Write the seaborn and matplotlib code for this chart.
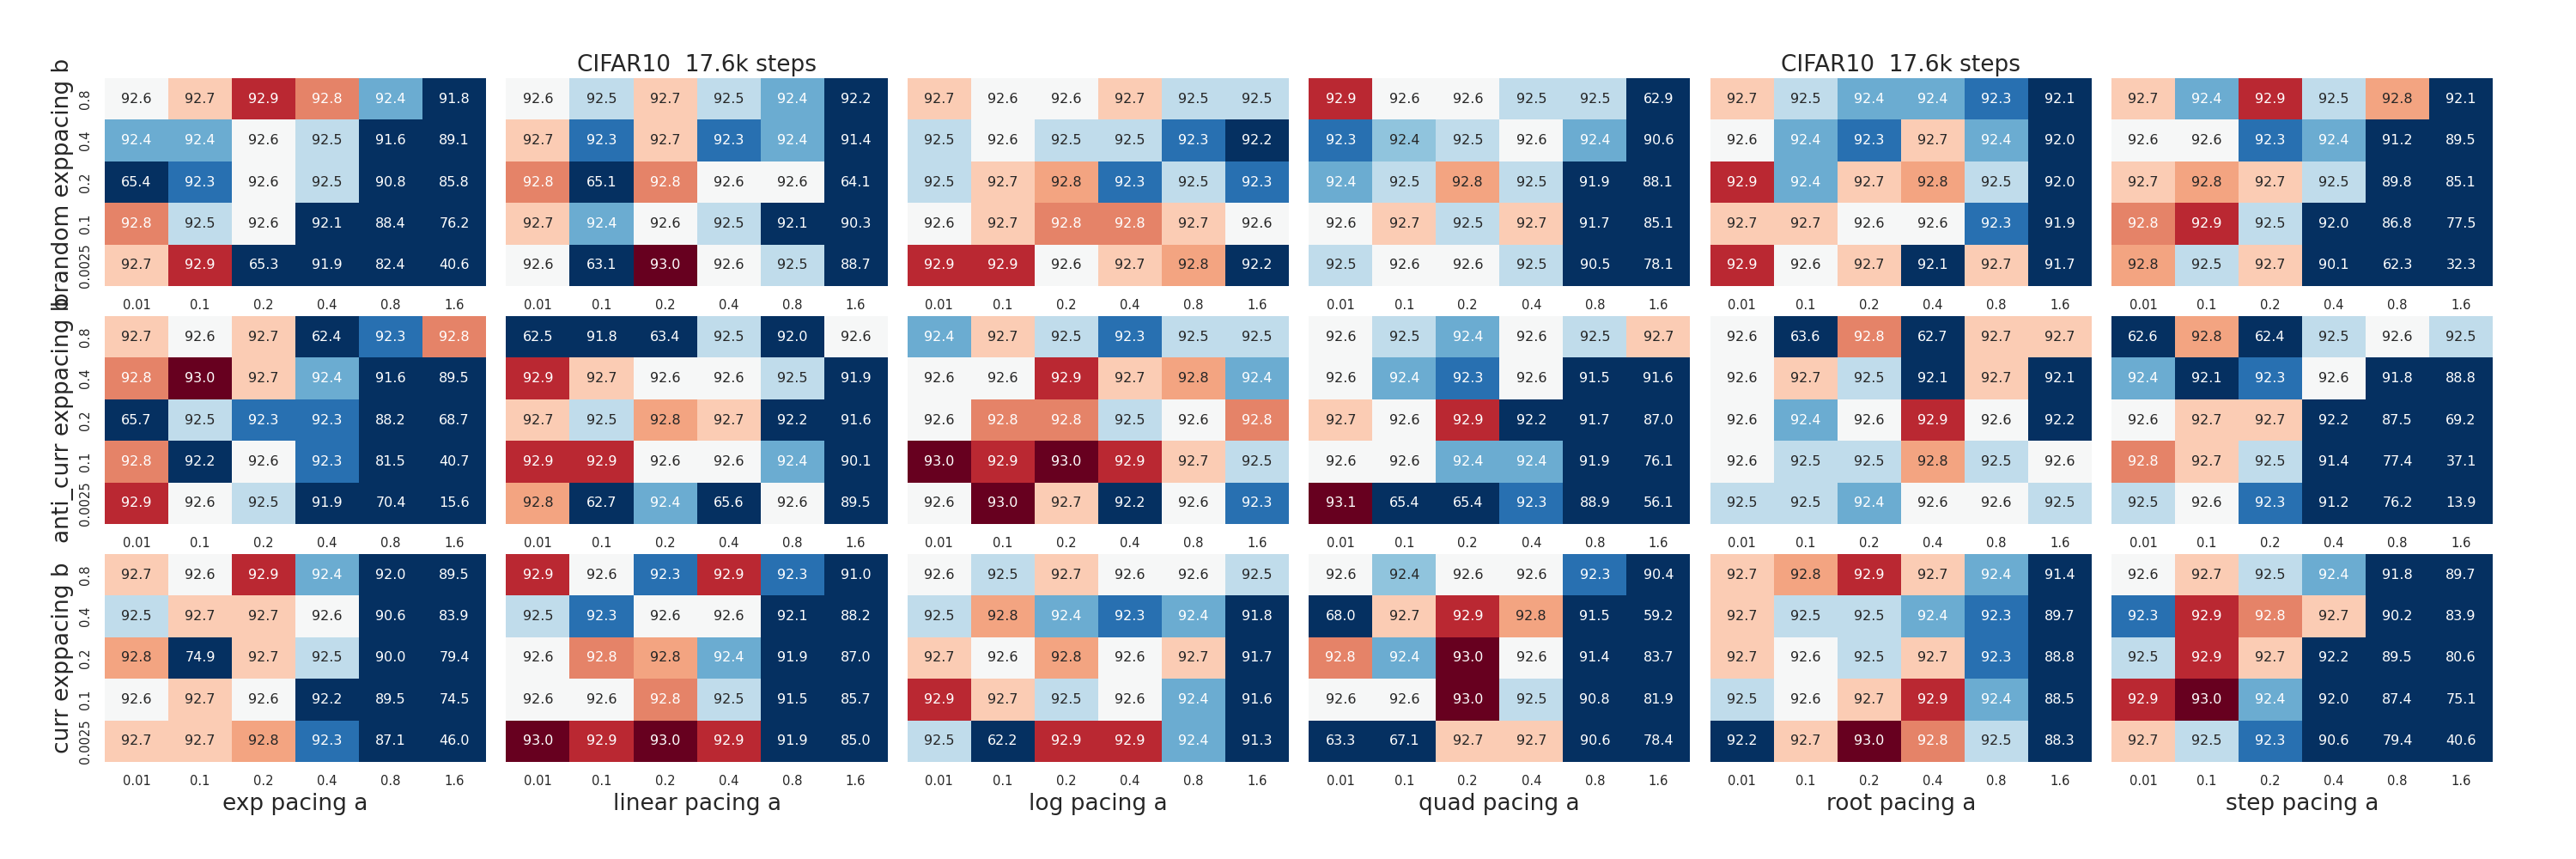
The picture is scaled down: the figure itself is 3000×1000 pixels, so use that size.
import pandas as pd
import seaborn as sns
import matplotlib.pyplot as plt

# axis categories
pacing_a = ["exp", "linear", "log", "quad", "root", "step"]
pacing_b = ["brandom", "anti_curr", "curr"]
a_values = ["0.01", "0.1", "0.2", "0.4", "0.8", "1.6"]
b_values = ["0.8", "0.4", "0.2", "0.1", "0.0025"]

Title = "CIFAR10  17.6k steps"

# accuracies, rows = exppacing b (0.8 .. 0.0025), cols = pacing a (0.01 .. 1.6)
# (92.76 / 92.44 = shown as 92.8 / 92.4 but lighter cell colour in the original)
# ---- brandom ----
brandom_exp = [[92.6, 92.7, 92.9, 92.8, 92.4, 91.8],
               [92.4, 92.4, 92.6, 92.5, 91.6, 89.1],
               [65.4, 92.3, 92.6, 92.5, 90.8, 85.8],
               [92.8, 92.5, 92.6, 92.1, 88.4, 76.2],
               [92.7, 92.9, 65.3, 91.9, 82.4, 40.6]]
brandom_linear = [[92.6, 92.5, 92.7, 92.5, 92.4, 92.2],
                  [92.7, 92.3, 92.7, 92.3, 92.4, 91.4],
                  [92.8, 65.1, 92.8, 92.6, 92.6, 64.1],
                  [92.7, 92.4, 92.6, 92.5, 92.1, 90.3],
                  [92.6, 63.1, 93.0, 92.6, 92.5, 88.7]]
brandom_log = [[92.7, 92.6, 92.6, 92.7, 92.5, 92.5],
               [92.5, 92.6, 92.5, 92.5, 92.3, 92.2],
               [92.5, 92.7, 92.76, 92.3, 92.5, 92.3],
               [92.6, 92.7, 92.8, 92.8, 92.7, 92.6],
               [92.9, 92.9, 92.6, 92.7, 92.76, 92.2]]
brandom_quad = [[92.9, 92.6, 92.6, 92.5, 92.5, 62.9],
                [92.3, 92.44, 92.5, 92.6, 92.4, 90.6],
                [92.4, 92.5, 92.76, 92.5, 91.9, 88.1],
                [92.6, 92.7, 92.5, 92.7, 91.7, 85.1],
                [92.5, 92.6, 92.6, 92.5, 90.5, 78.1]]
brandom_root = [[92.7, 92.5, 92.4, 92.4, 92.3, 92.1],
                [92.6, 92.4, 92.3, 92.7, 92.4, 92.0],
                [92.9, 92.4, 92.7, 92.76, 92.5, 92.0],
                [92.7, 92.7, 92.6, 92.6, 92.3, 91.9],
                [92.9, 92.6, 92.7, 92.1, 92.7, 91.7]]
brandom_step = [[92.7, 92.4, 92.9, 92.5, 92.76, 92.1],
                [92.6, 92.6, 92.3, 92.4, 91.2, 89.5],
                [92.7, 92.76, 92.7, 92.5, 89.8, 85.1],
                [92.8, 92.9, 92.5, 92.0, 86.8, 77.5],
                [92.76, 92.5, 92.7, 90.1, 62.3, 32.3]]

# ---- anti_curr ----
anti_exp = [[92.7, 92.6, 92.7, 62.4, 92.3, 92.8],
            [92.8, 93.0, 92.7, 92.4, 91.6, 89.5],
            [65.7, 92.5, 92.3, 92.3, 88.2, 68.7],
            [92.8, 92.2, 92.6, 92.3, 81.5, 40.7],
            [92.9, 92.6, 92.5, 91.9, 70.4, 15.6]]
anti_linear = [[62.5, 91.8, 63.4, 92.5, 92.0, 92.6],
               [92.9, 92.7, 92.6, 92.6, 92.5, 91.9],
               [92.7, 92.5, 92.76, 92.7, 92.2, 91.6],
               [92.9, 92.9, 92.6, 92.6, 92.4, 90.1],
               [92.76, 62.7, 92.4, 65.6, 92.6, 89.5]]
anti_log = [[92.4, 92.7, 92.5, 92.3, 92.5, 92.5],
            [92.6, 92.6, 92.9, 92.7, 92.76, 92.4],
            [92.6, 92.8, 92.8, 92.5, 92.6, 92.8],
            [93.0, 92.9, 93.0, 92.9, 92.7, 92.5],
            [92.6, 93.0, 92.7, 92.2, 92.6, 92.3]]
anti_quad = [[92.6, 92.5, 92.4, 92.6, 92.5, 92.7],
             [92.6, 92.4, 92.3, 92.6, 91.5, 91.6],
             [92.7, 92.6, 92.9, 92.2, 91.7, 87.0],
             [92.6, 92.6, 92.4, 92.4, 91.9, 76.1],
             [93.1, 65.4, 65.4, 92.3, 88.9, 56.1]]
anti_root = [[92.6, 63.6, 92.8, 62.7, 92.7, 92.7],
             [92.6, 92.7, 92.5, 92.1, 92.7, 92.1],
             [92.6, 92.4, 92.6, 92.9, 92.6, 92.2],
             [92.6, 92.5, 92.5, 92.76, 92.5, 92.6],
             [92.5, 92.5, 92.4, 92.6, 92.6, 92.5]]
anti_step = [[62.6, 92.76, 62.4, 92.5, 92.6, 92.5],
             [92.4, 92.1, 92.3, 92.6, 91.8, 88.8],
             [92.6, 92.7, 92.7, 92.2, 87.5, 69.2],
             [92.8, 92.7, 92.5, 91.4, 77.4, 37.1],
             [92.5, 92.6, 92.3, 91.2, 76.2, 13.9]]

# ---- curr ----
curr_exp = [[92.7, 92.6, 92.9, 92.4, 92.0, 89.5],
            [92.5, 92.7, 92.7, 92.6, 90.6, 83.9],
            [92.76, 74.9, 92.7, 92.5, 90.0, 79.4],
            [92.6, 92.7, 92.6, 92.2, 89.5, 74.5],
            [92.7, 92.7, 92.76, 92.3, 87.1, 46.0]]
curr_linear = [[92.9, 92.6, 92.3, 92.9, 92.3, 91.0],
               [92.5, 92.3, 92.6, 92.6, 92.1, 88.2],
               [92.6, 92.8, 92.76, 92.4, 91.9, 87.0],
               [92.6, 92.6, 92.8, 92.5, 91.5, 85.7],
               [93.0, 92.9, 93.0, 92.9, 91.9, 85.0]]
curr_log = [[92.6, 92.5, 92.7, 92.6, 92.6, 92.5],
            [92.5, 92.76, 92.4, 92.3, 92.4, 91.8],
            [92.7, 92.6, 92.76, 92.6, 92.7, 91.7],
            [92.9, 92.7, 92.5, 92.6, 92.4, 91.6],
            [92.5, 62.2, 92.9, 92.9, 92.4, 91.3]]
curr_quad = [[92.6, 92.44, 92.6, 92.6, 92.3, 90.4],
             [68.0, 92.7, 92.9, 92.76, 91.5, 59.2],
             [92.8, 92.4, 93.0, 92.6, 91.4, 83.7],
             [92.6, 92.6, 93.0, 92.5, 90.8, 81.9],
             [63.3, 67.1, 92.7, 92.7, 90.6, 78.4]]
curr_root = [[92.7, 92.76, 92.9, 92.7, 92.4, 91.4],
             [92.7, 92.5, 92.5, 92.4, 92.3, 89.7],
             [92.7, 92.6, 92.5, 92.7, 92.3, 88.8],
             [92.5, 92.6, 92.7, 92.9, 92.4, 88.5],
             [92.2, 92.7, 93.0, 92.8, 92.5, 88.3]]
curr_step = [[92.6, 92.7, 92.5, 92.4, 91.8, 89.7],
             [92.3, 92.9, 92.8, 92.7, 90.2, 83.9],
             [92.5, 92.9, 92.7, 92.2, 89.5, 80.6],
             [92.9, 93.0, 92.4, 92.0, 87.4, 75.1],
             [92.7, 92.5, 92.3, 90.6, 79.4, 40.6]]

grid = [[brandom_exp, brandom_linear, brandom_log, brandom_quad, brandom_root, brandom_step],
        [anti_exp, anti_linear, anti_log, anti_quad, anti_root, anti_step],
        [curr_exp, curr_linear, curr_log, curr_quad, curr_root, curr_step]]

fontsz = 19
ticksz = 10.6
annotsz = 11.5

sns.set_theme(style="white")
fig, axes = plt.subplots(3, 6, figsize=(30, 10), dpi=100)
fig.subplots_adjust(left=0.0407, right=0.9677, top=0.909, bottom=0.113,
                    wspace=0.0527, hspace=0.1446)

for i, b_name in enumerate(pacing_b):
    for j, a_name in enumerate(pacing_a):
        ax = axes[i][j]
        df = pd.DataFrame(grid[i][j], index=b_values, columns=a_values)
        sns.heatmap(df, ax=ax, cmap="RdBu_r", vmin=92.2, vmax=93.0,
                    annot=True, fmt=".1f", cbar=False,
                    annot_kws={"fontsize": annotsz})
        ax.tick_params(length=0, pad=11, labelsize=ticksz)
        ax.set_xticklabels(a_values, rotation=0)
        # x label on every panel, upper rows get covered by the next row
        ax.set_xlabel(a_name + " pacing a", fontsize=fontsz)
        if j == 0:
            ax.set_yticklabels(b_values, rotation=90, va="center")
            ax.set_ylabel(b_name + " exppacing b", fontsize=fontsz)
        else:
            ax.set_yticks([])
            ax.set_ylabel("")

axes[0][1].set_title(Title, fontsize=fontsz)
axes[0][4].set_title(Title, fontsize=fontsz)

fig.savefig("out.png", dpi=100)
